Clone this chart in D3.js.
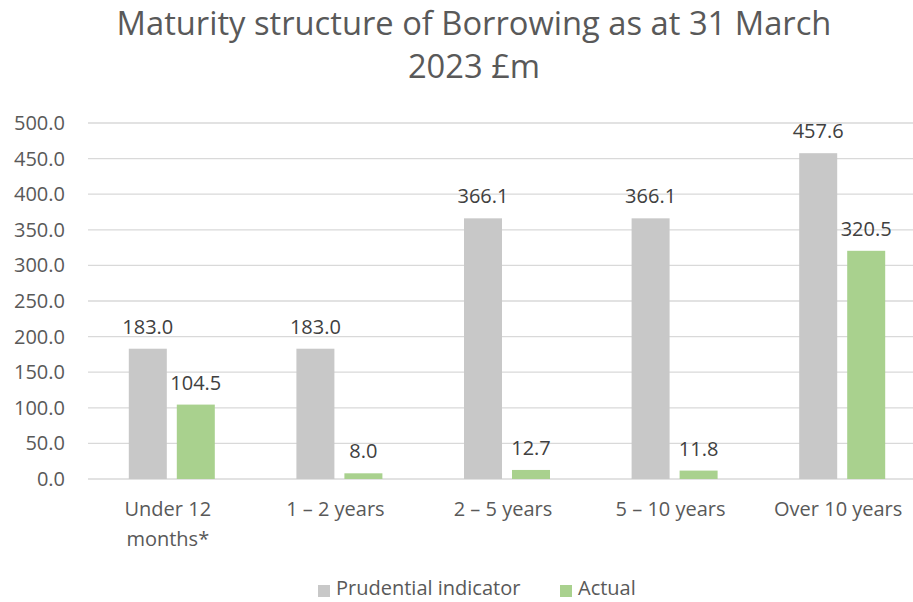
<!DOCTYPE html>
<html>
<head>
<meta charset="utf-8">
<script src="https://cdn.jsdelivr.net/npm/d3@7"></script>
<style>
  body { margin: 0; background: #fff; }
  text { font-family: "Open Sans", "Noto Sans", sans-serif; }
</style>
</head>
<body>
<div id="chart"></div>
<script>
// --- data ---
const categories = [["Under 12", "months*"], ["1 \u2013 2 years"], ["2 \u2013 5 years"], ["5 \u2013 10 years"], ["Over 10 years"]];
const seriesNames = ["Prudential indicator", "Actual"];
const prudential = [183.0, 183.0, 366.1, 366.1, 457.6];
const actual = [104.5, 8.0, 12.7, 11.8, 320.5];
const yTicks = [0, 50, 100, 150, 200, 250, 300, 350, 400, 450, 500];
const colors = ["#c8c8c8", "#a9d18e"];

const W = 913, H = 602;
const fs = "20px";
const svg = d3.select("#chart").append("svg")
    .attr("width", W)
    .attr("height", H);

const x = d3.scaleBand().domain(d3.range(categories.length)).range([86, 924]);
const y = d3.scaleLinear().domain([0, 500]).range([479, 123]);
const barW = 38, gap = 10;

// title
const title = svg.append("text")
    .attr("text-anchor", "middle")
    .attr("fill", "#595959")
    .style("font-size", "28px");
title.append("tspan").attr("x", 474).attr("y", 35).text("Maturity structure of Borrowing as at 31 March");
title.append("tspan").attr("x", 474).attr("y", 78).text("2023 \u00a3m");
// squeeze to the reference width
title.selectAll("tspan").each(function(d, i) {
    if (i === 0) {
        const len = this.getComputedTextLength();
        title.style("font-size", (28 * 715 / len) + "px");
    }
});

// grid
svg.append("g")
    .selectAll("line")
    .data(yTicks)
    .join("line")
    .attr("x1", 88).attr("x2", W)
    .attr("y1", d => y(d)).attr("y2", d => y(d))
    .attr("stroke", "#d9d9d9")
    .attr("stroke-width", 1.3);

// y axis
const yAxis = svg.append("g")
    .attr("transform", "translate(65,0)")
    .call(d3.axisLeft(y).tickValues(yTicks).tickFormat(d3.format(".1f")).tickSize(0).tickPadding(0));
yAxis.select(".domain").remove();
yAxis.selectAll("text")
    .attr("fill", "#595959")
    .style("font-size", fs)
    .style("font-family", "'Open Sans', sans-serif");

// bars
const series = [prudential, actual];
series.forEach((vals, s) => {
    const off = 2 + (s === 0 ? -(gap / 2 + barW) : gap / 2);
    const g = svg.append("g");
    g.selectAll("rect")
        .data(vals)
        .join("rect")
        .attr("x", (d, i) => x(i) + x.bandwidth() / 2 + off)
        .attr("width", barW)
        .attr("y", d => y(d))
        .attr("height", d => y(0) - y(d))
        .attr("fill", colors[s]);
    g.selectAll("text")
        .data(vals)
        .join("text")
        .attr("x", (d, i) => x(i) + x.bandwidth() / 2 + off + barW / 2)
        .attr("y", d => y(d) - 15)
        .attr("text-anchor", "middle")
        .attr("fill", "#404040")
        .style("font-size", fs)
        .text(d => d.toFixed(1));
});

// x labels
const xl = svg.append("g")
    .selectAll("text")
    .data(categories)
    .join("text")
    .attr("text-anchor", "middle")
    .attr("fill", "#595959")
    .style("font-size", fs);
xl.each(function(lines, i) {
    lines.forEach((t, k) => {
        d3.select(this).append("tspan")
            .attr("x", x(i) + x.bandwidth() / 2 - 2)
            .attr("y", 516 + k * 30)
            .text(t);
    });
});

// legend
const legend = svg.append("g");
const legendX = [318, 560];
seriesNames.forEach((n, i) => {
    legend.append("rect")
        .attr("x", legendX[i]).attr("y", 585)
        .attr("width", 12).attr("height", 12)
        .attr("fill", colors[i]);
    legend.append("text")
        .attr("x", legendX[i] + 18).attr("y", 595)
        .attr("fill", "#595959")
        .style("font-size", fs)
        .text(n);
});
</script>
</body>
</html>
